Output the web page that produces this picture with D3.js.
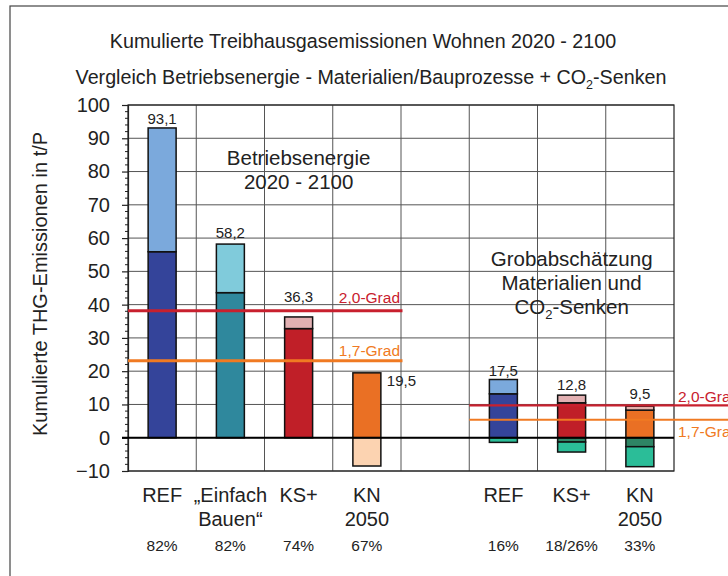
<!DOCTYPE html>
<html>
<head>
<meta charset="utf-8">
<script src="https://cdn.jsdelivr.net/npm/d3@7"></script>
<style>
  html, body { margin: 0; padding: 0; background: #fff; }
  svg text { font-family: "Liberation Sans", Arial, Helvetica, sans-serif; fill: #222; }
</style>
</head>
<body>
<svg id="chart" width="728" height="576"></svg>
<script>
// ---------------- DATA ----------------
const categoryLines = [["REF"], ["„Einfach", "Bauen“"], ["KS+"], ["KN", "2050"], [], ["REF"], ["KS+"], ["KN", "2050"]];
const shareLabels   = ["82%", "82%", "74%", "67%", "", "16%", "18/26%", "33%"];
const coreValues    = [55.9, 43.6, 32.8, 19.5, null, 13.2, 10.5, 8.3];
const totalValues   = [93.1, 58.2, 36.3, 19.5, null, 17.5, 12.8, 9.5];
const sinkFirst     = [0, 0, 0, -8.5, null, -1.4, -1.3, -2.7];
const sinkTotal     = [0, 0, 0, -8.5, null, -1.4, -4.3, -8.7];
const totalLabels   = ["93,1", "58,2", "36,3", "19,5", "", "17,5", "12,8", "9,5"];
const thresholdNames = ["2,0-Grad", "1,7-Grad"];
const thresholdLeft  = [38.2, 23.1];
const thresholdRight = [9.7, 5.4];
const yTickValues = [-10, 0, 10, 20, 30, 40, 50, 60, 70, 80, 90, 100];

// ---------------- STYLE ----------------
const coreColors  = ["#34449a", "#2f889d", "#c01f28", "#ea7024", null, "#34449a", "#c01f28", "#ea7024"];
const upperColors = ["#7ba9dc", "#80cbdb", "#e2b0b2", null, null, "#7ba9dc", "#e2b0b2", "#e6b3ae"];
const sink1Colors = [null, null, null, "#fcd3b1", null, "#2bbd98", "#2e8565", "#2e8565"];
const sink2Colors = [null, null, null, null, null, null, "#2bbd98", "#2bbd98"];
const thresholdColors = ["#c8202e", "#f07a22"];
const labelLift = [4, 6, 15, 0, 0, 4, 5, 7];

const svg = d3.select("#chart");
const W = 728, H = 576;
const plot = { left: 128, right: 674, top: 105, bottom: 471 };

// outer frame
svg.append("rect").attr("x", 10).attr("y", 6).attr("width", 740).attr("height", 600)
  .attr("fill", "none").attr("stroke", "#444").attr("stroke-width", 1.2);

const x = d3.scaleBand().domain(d3.range(categoryLines.length)).range([plot.left, plot.right]).paddingInner(0).paddingOuter(0);
const y = d3.scaleLinear().domain([-10, 100]).range([plot.bottom, plot.top]);
const bw = x.bandwidth();
const barW = bw * 0.41;
const bx = i => x(i) + (bw - barW) / 2;

// gridlines
const g = svg.append("g");
g.selectAll("line.hg").data(yTickValues).join("line")
  .attr("x1", plot.left).attr("x2", plot.right)
  .attr("y1", d => y(d)).attr("y2", d => y(d))
  .attr("stroke", "#555").attr("stroke-width", 1);
g.selectAll("line.vg").data(d3.range(1, categoryLines.length)).join("line")
  .attr("x1", d => x(d)).attr("x2", d => x(d))
  .attr("y1", plot.top).attr("y2", plot.bottom)
  .attr("stroke", "#555").attr("stroke-width", 1);
// frame
g.append("rect").attr("x", plot.left).attr("y", plot.top)
  .attr("width", plot.right - plot.left).attr("height", plot.bottom - plot.top)
  .attr("fill", "none").attr("stroke", "#222").attr("stroke-width", 1.2);

// y axis with minor ticks
const yAxis = d3.axisLeft(y).tickValues(yTickValues).tickSize(6).tickPadding(12).tickFormat(d3.format("d"));
const ax = svg.append("g").attr("transform", `translate(${plot.left},0)`).call(yAxis);
ax.select(".domain").attr("stroke", "#222").attr("stroke-width", 1.2);
ax.selectAll(".tick line").attr("stroke", "#222").attr("stroke-width", 1.2);
ax.selectAll(".tick text").attr("font-size", 20).attr("fill", "#222")
  .style("font-family", '"Liberation Sans", Arial, sans-serif');
const minor = d3.range(-10, 100.1, 2).filter(v => v % 10 !== 0);
svg.append("g").selectAll("line").data(minor).join("line")
  .attr("x1", plot.left - 3).attr("x2", plot.left)
  .attr("y1", d => y(d)).attr("y2", d => y(d))
  .attr("stroke", "#222").attr("stroke-width", 1);

// bars
const bars = svg.append("g");
function seg(i, v0, v1, color) {
  if (color == null || v0 == null || v1 == null || v0 === v1) return;
  bars.append("rect")
    .attr("x", bx(i)).attr("width", barW)
    .attr("y", y(Math.max(v0, v1))).attr("height", Math.abs(y(v0) - y(v1)))
    .attr("fill", color).attr("stroke", "#111").attr("stroke-width", 1.5);
}
categoryLines.forEach((c, i) => {
  if (coreValues[i] == null) return;
  seg(i, 0, coreValues[i], coreColors[i]);
  seg(i, coreValues[i], totalValues[i], upperColors[i]);
  seg(i, 0, sinkFirst[i], sink1Colors[i]);
  seg(i, sinkFirst[i], sinkTotal[i], sink2Colors[i]);
});

// zero line
svg.append("line").attr("x1", plot.left - 6).attr("x2", plot.right)
  .attr("y1", y(0)).attr("y2", y(0)).attr("stroke", "#000").attr("stroke-width", 2.2);

// thresholds left
thresholdLeft.forEach((v, k) => {
  svg.append("line").attr("x1", plot.left).attr("x2", x(4) + 1.5)
    .attr("y1", y(v)).attr("y2", y(v))
    .attr("stroke", thresholdColors[k]).attr("stroke-width", 3);
  svg.append("text").attr("x", x(4) - 1).attr("y", y(v) - (k === 0 ? 7.5 : 5))
    .attr("text-anchor", "end").attr("font-size", 15.5)
    .style("fill", thresholdColors[k]).text(thresholdNames[k]);
});
// thresholds right
thresholdRight.forEach((v, k) => {
  svg.append("line").attr("x1", x(5)).attr("x2", W)
    .attr("y1", y(v)).attr("y2", y(v))
    .attr("stroke", thresholdColors[k]).attr("stroke-width", k === 0 ? 2.2 : 1.8);
  svg.append("text").attr("x", plot.right + 4).attr("y", k === 0 ? y(v) - 3 : y(v) + 17)
    .attr("font-size", 15.5)
    .style("fill", thresholdColors[k]).text(thresholdNames[k]);
});

// total labels
totalLabels.forEach((t, i) => {
  if (!t) return;
  if (i === 3) {
    svg.append("text").attr("x", bx(i) + barW + 6).attr("y", y(totalValues[i]) + 13)
      .attr("font-size", 15).text(t);
  } else {
    svg.append("text").attr("x", bx(i) + barW / 2).attr("y", y(totalValues[i]) - labelLift[i])
      .attr("text-anchor", "middle").attr("font-size", 15).text(t);
  }
});

// category labels
categoryLines.forEach((lines, i) => {
  lines.forEach((l, j) => {
    svg.append("text").attr("x", x(i) + bw / 2).attr("y", 502 + j * 23.5)
      .attr("text-anchor", "middle").attr("font-size", 20).text(l);
  });
  if (shareLabels[i]) {
    svg.append("text").attr("x", x(i) + bw / 2).attr("y", 551)
      .attr("text-anchor", "middle").attr("font-size", 15.5).text(shareLabels[i]);
  }
});

// annotations
const ann1 = svg.append("text").attr("text-anchor", "middle").attr("font-size", 20.5);
ann1.append("tspan").attr("x", x(2) + bw / 2).attr("y", 165).text("Betriebsenergie");
ann1.append("tspan").attr("x", x(2) + bw / 2).attr("y", 189).text("2020 - 2100");

const ann2 = svg.append("text").attr("text-anchor", "middle").attr("font-size", 20.5);
ann2.append("tspan").attr("x", x(6) + bw / 2).attr("y", 266).text("Grobabschätzung");
ann2.append("tspan").attr("x", x(6) + bw / 2).attr("y", 290).text("Materialien und");
const ann3 = svg.append("text").attr("text-anchor", "middle").attr("x", x(6) + bw / 2).attr("y", 314).attr("font-size", 20.5);
ann3.append("tspan").text("CO");
ann3.append("tspan").attr("font-size", 13).attr("dy", 5).text("2");
ann3.append("tspan").attr("dy", -5).text("-Senken");

// titles
svg.append("text").attr("x", 363).attr("y", 48).attr("text-anchor", "middle")
  .attr("font-size", 19.7).text("Kumulierte Treibhausgasemissionen Wohnen 2020 - 2100");
const t2 = svg.append("text").attr("x", 371).attr("y", 84).attr("text-anchor", "middle").attr("font-size", 19.7);
t2.append("tspan").text("Vergleich Betriebsenergie - Materialien/Bauprozesse + CO");
t2.append("tspan").attr("font-size", 12.5).attr("dy", 5).text("2");
t2.append("tspan").attr("dy", -5).text("-Senken");

// y axis title
svg.append("text").attr("transform", `translate(47,${284}) rotate(-90)`)
  .attr("text-anchor", "middle").attr("font-size", 20)
  .text("Kumulierte THG-Emissionen in t/P");
</script>
</body>
</html>
